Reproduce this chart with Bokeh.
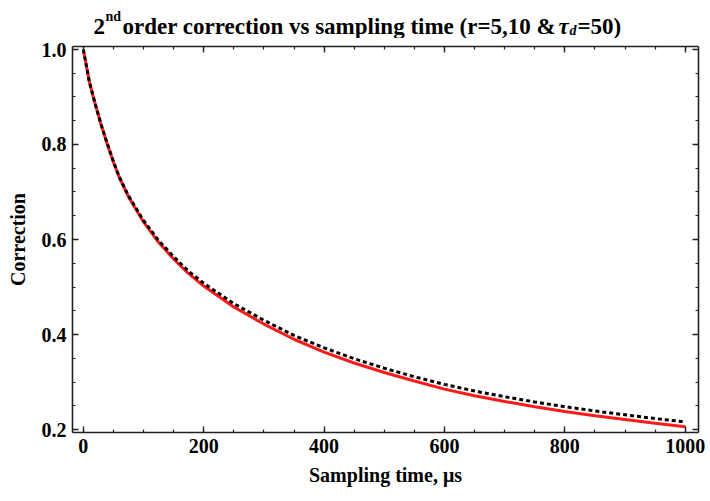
from bokeh.plotting import figure
from bokeh.layouts import column
from bokeh.models import LinearAxis, FixedTicker, Range1d, PrintfTickFormatter
from bokeh.core.properties import value
from bokeh.embed import file_html
from bokeh.resources import INLINE

# Sampling time (microseconds)
t_us = [0, 10, 20, 30, 40, 50, 60, 75, 100, 125, 150, 175, 200, 250, 300,
        350, 400, 450, 500, 550, 600, 650, 700, 750, 800, 850, 900, 950, 1000]

# Second-order correction, r = 5 (solid red)
corr_r5 = [1.000, 0.932, 0.884, 0.840, 0.800, 0.763, 0.730, 0.690, 0.637,
           0.594, 0.559, 0.528, 0.502, 0.458, 0.422, 0.390, 0.363, 0.340,
           0.320, 0.302, 0.285, 0.271, 0.259, 0.248, 0.238, 0.229, 0.221,
           0.213, 0.206]

# Second-order correction, r = 10 (dashed black)
corr_r10 = [1.000, 0.932, 0.884, 0.840, 0.801, 0.764, 0.731, 0.692, 0.640,
            0.598, 0.564, 0.533, 0.508, 0.465, 0.430, 0.398, 0.372, 0.349,
            0.329, 0.311, 0.295, 0.281, 0.269, 0.258, 0.248, 0.239, 0.231,
            0.223, 0.216]

x_major = [0, 200, 400, 600, 800, 1000]
x_minor = list(range(0, 1001, 50))
y_major = [0.2, 0.4, 0.6, 0.8, 1.0]
y_minor = [round(0.2 + 0.05 * i, 2) for i in range(17)]

SERIF = "Liberation Serif"
BORDER_L, BORDER_R = 72, 12
FRAME_W = 626
HEADER_H = 38

# ---- main plot -------------------------------------------------------------
p = figure(frame_width=FRAME_W, frame_height=386,
           min_border_left=BORDER_L, min_border_right=BORDER_R,
           min_border_top=8, min_border_bottom=69,
           x_range=Range1d(-18, 1022), y_range=Range1d(0.1937, 1.0063),
           output_backend="svg", toolbar_location=None,
           x_axis_location=None, y_axis_location=None)
p.outline_line_color = None
p.xgrid.visible = False
p.ygrid.visible = False
p.background_fill_color = "white"
p.border_fill_color = "white"


def style_axis(ax, ticks, minor, show_labels, label=None):
    ax.ticker = FixedTicker(ticks=ticks, minor_ticks=minor)
    ax.axis_line_color = "#222222"
    ax.axis_line_width = 1.6
    ax.major_tick_line_color = "#222222"
    ax.major_tick_line_width = 1.4
    ax.minor_tick_line_color = "#222222"
    ax.minor_tick_line_width = 1.2
    ax.major_tick_in = 6
    ax.major_tick_out = 0
    ax.minor_tick_in = 3
    ax.minor_tick_out = 0
    if show_labels:
        ax.major_label_text_font = SERIF
        ax.major_label_text_font_style = "bold"
        ax.major_label_text_font_size = "20px"
        ax.major_label_text_color = "black"
        ax.major_label_standoff = 6
    else:
        ax.major_label_overrides = {t: "" for t in ticks}
        ax.major_label_standoff = 0
    if label:
        ax.axis_label = label
        ax.axis_label_text_font = SERIF
        ax.axis_label_text_font_style = "bold"
        ax.axis_label_text_font_size = "20px"
        ax.axis_label_text_color = "black"
        ax.axis_label_standoff = 8


bottom = LinearAxis()
style_axis(bottom, x_major, x_minor, True, "Sampling time, \u03bcs")
left = LinearAxis()
style_axis(left, y_major, y_minor, True, "Correction")
left.formatter = PrintfTickFormatter(format="%.1f")
left.axis_label_standoff = 10
top = LinearAxis()
style_axis(top, x_major, x_minor, False)
right = LinearAxis()
style_axis(right, y_major, y_minor, False)

p.add_layout(bottom, "below")
p.add_layout(left, "left")
p.add_layout(top, "above")
p.add_layout(right, "right")

p.line(t_us, corr_r5, line_color="#ff1a1a", line_width=3)
p.line(t_us, corr_r10, line_color="black", line_width=3, line_dash="4 3")

# ---- title strip: x in page pixels, y in pixels from the top ----------------
head = figure(frame_width=FRAME_W, frame_height=HEADER_H,
              min_border_left=BORDER_L, min_border_right=BORDER_R,
              min_border_top=0, min_border_bottom=0,
              x_range=Range1d(BORDER_L, BORDER_L + FRAME_W),
              y_range=Range1d(HEADER_H, 0),
              output_backend="svg", toolbar_location=None,
              x_axis_location=None, y_axis_location=None)
head.outline_line_color = None
head.xgrid.visible = False
head.ygrid.visible = False
head.border_fill_color = "white"


def title_piece(text, x, baseline, size, style="bold"):
    head.text(x=[x], y=[baseline], text=[text],
              text_font=value(SERIF), text_font_style=style,
              text_font_size=size, text_color="black",
              text_align="left", text_baseline="alphabetic")


title_piece("2", 93, 26, "23px")
title_piece("nd", 105, 16, "14px")
title_piece("order correction vs sampling time (r=5,10 & ", 122, 26, "23px")
title_piece("\u03c4", 558, 26, "23px", "bold italic")
title_piece("d", 569, 30, "14px", "bold italic")
title_piece("=50)", 577, 26, "23px")

layout = column(head, p, spacing=0)
open("out.html", "w").write(file_html(layout, INLINE))
